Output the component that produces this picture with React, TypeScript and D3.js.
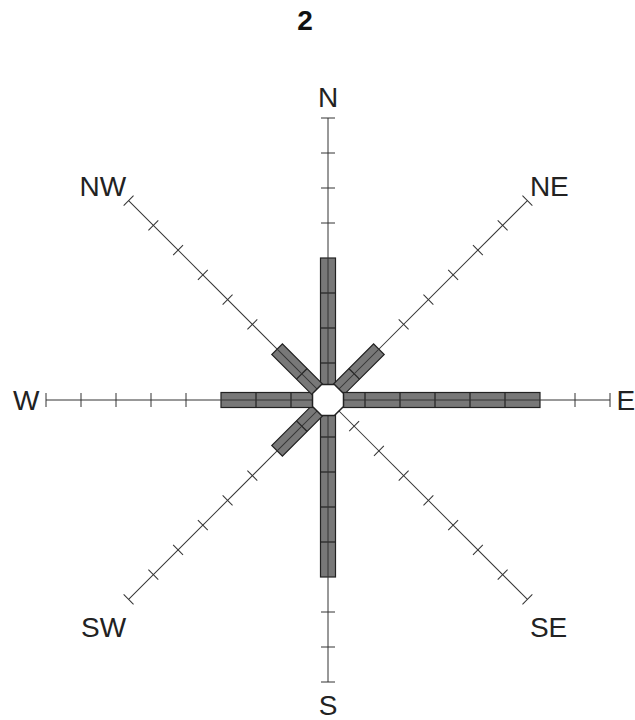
import React, { useEffect, useRef } from 'react';
import * as d3 from 'd3';

const title = '2';
const directions = ['N', 'NE', 'E', 'SE', 'S', 'SW', 'W', 'NW'];
const frequencies = [4, 2, 6, 0, 5, 2, 3, 2];
const tickValues = [1, 2, 3, 4, 5, 6, 7, 8];

const WindRose: React.FC = () => {
  const svgRef = useRef<SVGSVGElement>(null);

  useEffect(() => {
    if (!svgRef.current) return;
    d3.select(svgRef.current).selectAll('*').remove();

    const cx = 328;
    const cy = 400;
    const hole = 15.5;
    const barWidth = 15;
    const font = 'Liberation Sans, Arial, sans-serif';

    const svg = d3.select(svgRef.current)
      .attr('viewBox', '0 0 635 720');

    // radius scale: one unit per tick
    const r = d3.scaleLinear().domain([0, 8]).range([2, 282]);
    const angle = d3.scaleBand().domain(directions).range([0, 360]);

    svg.append('text')
      .attr('x', 305)
      .attr('y', 30)
      .attr('text-anchor', 'middle')
      .attr('font-family', font)
      .attr('font-weight', 'bold')
      .attr('font-size', 28)
      .attr('fill', '#111')
      .text(title);

    const g = svg.append('g').attr('transform', `translate(${cx},${cy})`);

    const spokes = g.selectAll('.spoke')
      .data(directions.map((d, i) => ({ dir: d, value: frequencies[i] })))
      .enter()
      .append('g')
      .attr('class', 'spoke')
      .attr('transform', d => `rotate(${(angle(d.dir) || 0) - 90})`);

    // bars
    spokes.filter(d => d.value > 0)
      .append('rect')
      .attr('x', 10)
      .attr('y', -barWidth / 2)
      .attr('width', d => r(d.value) - 10)
      .attr('height', barWidth)
      .attr('fill', '#787878')
      .attr('stroke', '#222')
      .attr('stroke-width', 1.2);

    // segment dividers
    spokes.each(function (d) {
      const sel = d3.select(this);
      d3.range(1, d.value).forEach(k => {
        sel.append('line')
          .attr('x1', r(k)).attr('x2', r(k))
          .attr('y1', -barWidth / 2).attr('y2', barWidth / 2)
          .attr('stroke', '#222')
          .attr('stroke-width', 1.2);
      });
    });

    // axis line
    spokes.append('line')
      .attr('x1', 0)
      .attr('x2', r(8))
      .attr('stroke', '#333')
      .attr('stroke-width', 1);

    // ticks beyond bars
    spokes.each(function (d) {
      const sel = d3.select(this);
      tickValues.filter(t => t > d.value).forEach(t => {
        sel.append('line')
          .attr('x1', r(t)).attr('x2', r(t))
          .attr('y1', -7).attr('y2', 7)
          .attr('stroke', '#333')
          .attr('stroke-width', 1);
      });
    });

    // direction labels, placed just past the axis end
    const rEnd = r(8);
    const labelPos = (d: string) => {
      const a = (angle(d) || 0) * Math.PI / 180;
      const s = Math.sin(a);
      const c = Math.cos(a);
      const cardinal = Math.abs(s) < 0.1 || Math.abs(c) < 0.1;
      const ex = s * rEnd;
      const ey = -c * rEnd;
      const x = ex + (s > 0.1 ? 1 : s < -0.1 ? -1 : 0) * (cardinal ? 6.5 : 2.5);
      let y = 10;
      if (c > 0.1) y = ey - (cardinal ? 11 : 4.6);
      else if (c < -0.1) y = ey + (cardinal ? 33 : 37.6);
      const anchor = s > 0.1 ? 'start' : s < -0.1 ? 'end' : 'middle';
      return { x, y, anchor };
    };

    g.selectAll('.dir-label')
      .data(directions)
      .enter()
      .append('text')
      .attr('class', 'dir-label')
      .attr('x', d => labelPos(d).x)
      .attr('y', d => labelPos(d).y)
      .attr('text-anchor', d => labelPos(d).anchor)
      .attr('font-family', font)
      .attr('font-size', 28)
      .attr('fill', '#222')
      .text(d => d);

    // center octagon
    const oct = d3.range(8).map(i => {
      const a = (22.5 + i * 45) * Math.PI / 180;
      const rr = hole / Math.cos(Math.PI / 8);
      return [rr * Math.cos(a), rr * Math.sin(a)] as [number, number];
    });
    g.append('polygon')
      .attr('points', oct.map(p => p.join(',')).join(' '))
      .attr('fill', '#fff')
      .attr('stroke', '#222')
      .attr('stroke-width', 1.5);
  }, []);

  return (
    <svg
      ref={svgRef}
      width={635}
      height={720}
      style={{ position: 'absolute', left: 0, top: 0, background: '#fff' }}
    />
  );
};

export default function App() {
  return <WindRose />;
}
